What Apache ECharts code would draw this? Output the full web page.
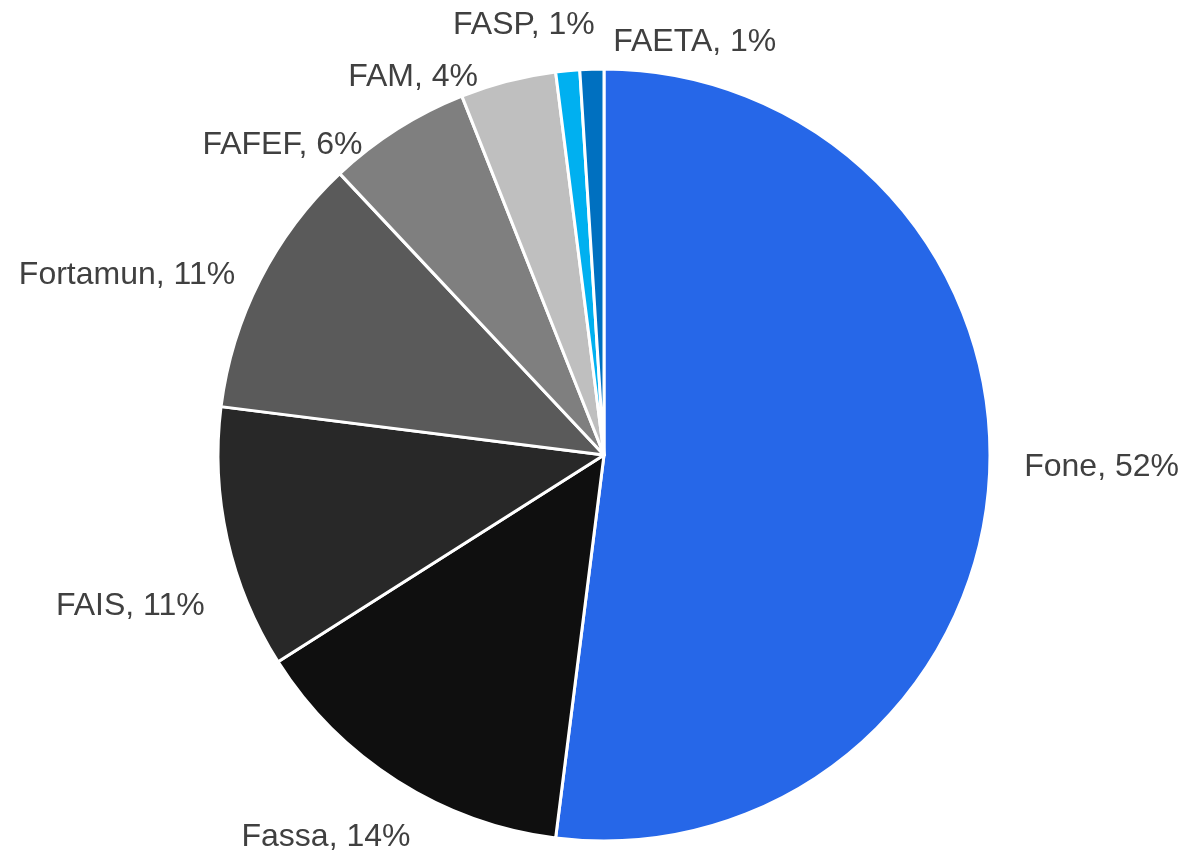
<!DOCTYPE html>
<html>
<head>
<meta charset="utf-8">
<script src="https://cdn.jsdelivr.net/npm/echarts@6/dist/echarts.min.js"></script>
<style>
html,body{margin:0;padding:0;background:#fff;}
#chart{width:1186px;height:854px;}
</style>
</head>
<body>
<div id="chart"></div>
<script>
const categories = ['Fone', 'Fassa', 'FAIS', 'Fortamun', 'FAFEF', 'FAM', 'FASP', 'FAETA'];
const values = [52, 14, 11, 11, 6, 4, 1, 1];
const colors = ['#2667E8', '#0F0F0F', '#282828', '#5A5A5A', '#7F7F7F', '#BFBFBF', '#00B0F0', '#0070C0'];
// label nudges (styling only): [dx, dy, align override]
const labelNudges = [[0, -13], [39, 39], [12, 63], [8, 4], [-9, 33], [-10, 15], [44, -26], [37, -7, 'left']];

const chart = echarts.init(document.getElementById('chart'), null, {renderer: 'canvas'});
chart.setOption({
  animation: false,
  backgroundColor: '#ffffff',
  series: [{
    type: 'pie',
    center: [604, 455],
    radius: 386,
    startAngle: 90,
    clockwise: true,
    avoidLabelOverlap: false,
    data: categories.map((c, i) => ({name: c, value: values[i], itemStyle: {color: colors[i]}})),
    itemStyle: {borderColor: '#ffffff', borderWidth: 3},
    label: {
      show: true,
      position: 'outside',
      formatter: p => p.name + ', ' + Math.round(p.percent) + '%',
      fontFamily: 'Liberation Sans, Arial, sans-serif',
      fontSize: 32,
      color: '#404040',
      distanceToLabelLine: 5
    },
    labelLine: {show: false, length: 20, length2: 10},
    labelLayout: function (params) {
      const n = labelNudges[params.dataIndex] || [0, 0];
      const out = {dx: n[0], dy: n[1]};
      if (n[2]) out.align = n[2];
      return out;
    },
    emphasis: {disabled: true}
  }]
});
</script>
</body>
</html>
